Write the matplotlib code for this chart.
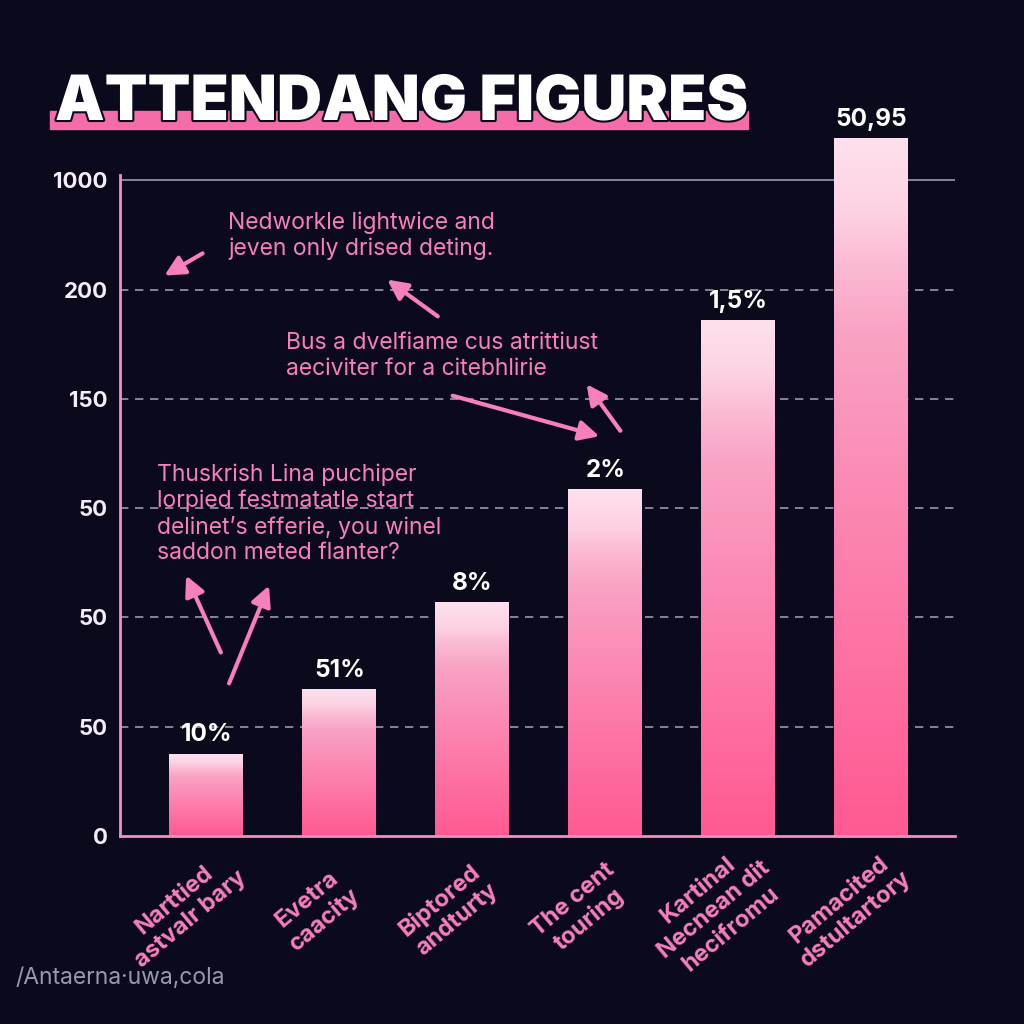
import numpy as np
import matplotlib.pyplot as plt
import matplotlib.patheffects as pe
from matplotlib.colors import LinearSegmentedColormap

# values in axis units (gridline spacing = 1)
categories = ["Narttied\nastvalr bary", "Evetra\ncaacity", "Biptored\nandturty",
              "The cent\ntouring", "Kartinal\nNecnean dit\nhecifromu", "Pamacited\ndstultartory"]
values = [0.75, 1.34, 2.14, 3.17, 4.72, 6.38]
bar_labels = ["10%", "51%", "8%", "2%", "1,5%", "50,95"]
ytick_pos = [0, 1, 2, 3, 4, 5, 6]
ytick_labels = ["0", "50", "50", "50", "150", "200", "1000"]

bg = "#0b0a1c"
pink = "#f77fba"
W, H = 1024, 1024
plt.rcParams["font.family"] = ["Inter", "DejaVu Sans"]

fig = plt.figure(figsize=(10.24, 10.24), dpi=100, facecolor=bg)
ax = fig.add_axes([120 / W, 1 - 836 / H, 835 / W, 661 / H], facecolor=bg)

def fx(px):
    return px / W

def fy(py):
    return 1 - py / H

cmap = LinearSegmentedColormap.from_list(
    "barpink", [(0, "#ff5a92"), (0.2, "#fe6c9f"), (0.5, "#fb8ab5"), (0.72, "#f9a2c4"),
                (0.82, "#fbbad4"), (0.9, "#fdd3e4"), (1, "#fde0ec")])
grad = np.linspace(0, 1, 256).reshape(-1, 1)
width = 0.556

for i, v in enumerate(values):
    ax.imshow(grad, extent=[i - width / 2, i + width / 2, 0, v], origin="lower",
              cmap=cmap, aspect="auto", zorder=2, clip_on=False)
    ax.text(i, v + 0.07, bar_labels[i], ha="center", va="bottom", color="white",
            fontsize=17.5, fontweight="bold", zorder=4, clip_on=False)

ax.set_xlim(-0.65, 5.63)
ax.set_ylim(0, 6.05)

for y in ytick_pos[1:]:
    ax.axhline(y, color="#9a9aac", lw=1.2, ls=(0, (5, 4)) if y < 6 else "-", zorder=1)

ax.set_yticks(ytick_pos)
ax.set_yticklabels(ytick_labels, color="#f6ecf6", fontsize=16, fontweight="bold")
ax.tick_params(axis="y", length=0, pad=9)
ax.set_xticks([])

for s in ["top", "right"]:
    ax.spines[s].set_visible(False)
for s in ["left", "bottom"]:
    ax.spines[s].set_color("#f38fc3")
    ax.spines[s].set_linewidth(2)

# rotated category labels
for i, c in enumerate(categories):
    ax.annotate(c, xy=(i, 0), xycoords=("data", "axes fraction"),
                xytext=(-24, -74), textcoords="offset pixels",
                ha="center", va="center", rotation=40, rotation_mode="anchor",
                color=pink, fontsize=17, fontweight="bold", linespacing=1.2)

# title with highlight bar
fig.patches.append(plt.Rectangle((fx(50), fy(129)), fx(698), 18 / H,
                                 transform=fig.transFigure, color="#f56da8", zorder=0))
fig.text(fx(55), fy(120), "ATTENDANG FIGURES", color="white", fontsize=45,
         fontweight="black", va="baseline", ha="left", zorder=3,
         path_effects=[pe.withStroke(linewidth=3, foreground=bg)])

# annotation texts
fig.text(fx(228), fy(236), "Nedworkle lightwice and\njeven only drised deting.",
         color=pink, fontsize=16.5, va="center", ha="left", linespacing=1.2)
fig.text(fx(286), fy(356), "Bus a dvelfiame cus atrittiust\naeciviter for a citebhlirie",
         color=pink, fontsize=16.5, va="center", ha="left", linespacing=1.2)
fig.text(fx(157), fy(514),
         "Thuskrish Lina puchiper\nlorpied festmatatle start\ndelinet\u2019s efferie, you winel\nsaddon meted flanter?",
         color=pink, fontsize=16.5, va="center", ha="left", linespacing=1.2)

arrows = [((205, 252), (162, 277)), ((440, 318), (385, 278)), ((450, 395), (602, 437)),
          ((622, 433), (585, 382)), ((222, 655), (185, 573)), ((228, 686), (270, 583))]
for (x0, y0), (x1, y1) in arrows:
    fig.add_artist(plt.Annotation("", xy=(fx(x1), fy(y1)), xytext=(fx(x0), fy(y0)),
                                  xycoords="figure fraction", textcoords="figure fraction",
                                  arrowprops=dict(arrowstyle="-|>,head_length=1.2,head_width=0.6",
                                                  color=pink, lw=3)))

fig.text(fx(15), fy(978), "/Antaerna\u00b7uwa,cola", color="#9a98ae", fontsize=16.5,
         va="center", ha="left")

fig.savefig("out.png", facecolor=bg)
